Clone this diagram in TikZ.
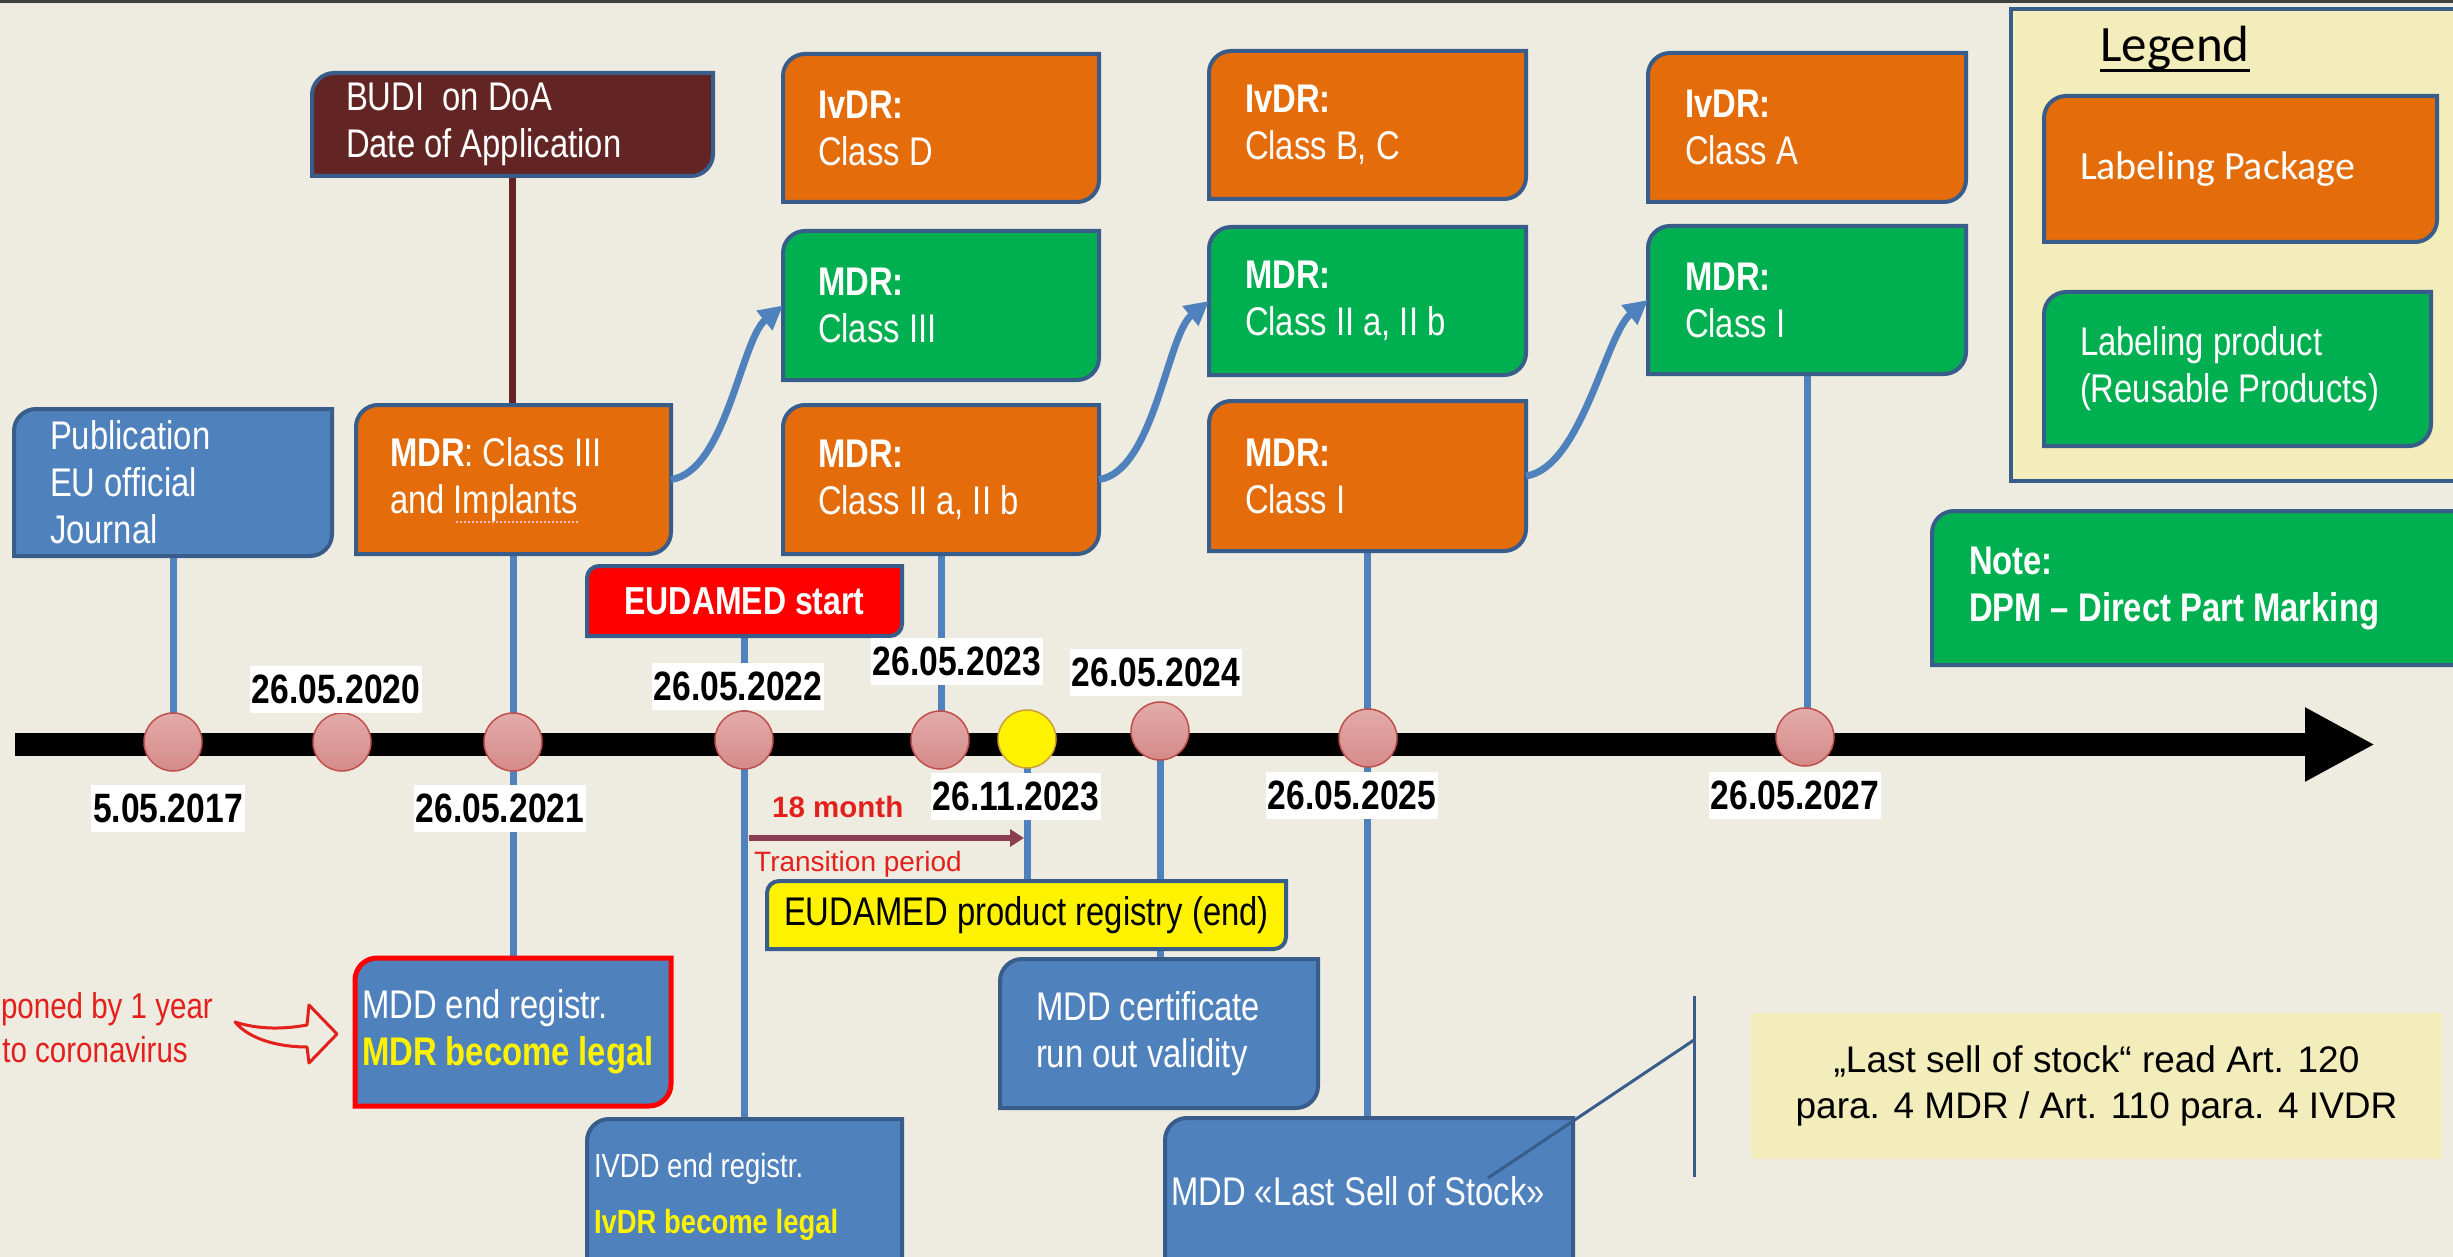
\documentclass[tikz,border=0pt]{standalone}
\usepackage{fontspec}
\setmainfont{Liberation Sans}[FakeStretch=0.82]
\newfontfamily\arialfont{Liberation Sans}
\newfontfamily\calibrifont{Carlito}
\usetikzlibrary{arrows.meta}

\definecolor{bgtan}{HTML}{EEECE1}
\definecolor{accblue}{HTML}{4F81BD}
\definecolor{edgeblue}{HTML}{385D8A}
\definecolor{accorange}{HTML}{E46C0A}
\definecolor{accgreen}{HTML}{00B050}
\definecolor{darkbrown}{HTML}{632523}
\definecolor{paleyellow}{HTML}{F2EDBA}
\definecolor{dottop}{HTML}{E3ABA9}
\definecolor{dotbottom}{HTML}{D48B89}
\definecolor{dotedge}{HTML}{C0504D}
\definecolor{yeledge}{HTML}{C9A03A}
\definecolor{alertred}{HTML}{E3201B}
\definecolor{periodline}{HTML}{8A3E50}
\definecolor{framegray}{HTML}{404040}

\pgfdeclarelayer{back}
\pgfdeclarelayer{wires}
\pgfsetlayers{back,wires,main}

\tikzset{
  anchorbox/.style={rectangle, inner sep=0pt, outer sep=0pt},
  lbl/.style={inner sep=0pt, outer sep=0pt, text=white, align=left,
    font=\fontsize{40}{47}\selectfont},
  bluepanel/.style={fill=accblue, draw=edgeblue, line width=4pt},
  orangepanel/.style={fill=accorange, draw=edgeblue, line width=4pt},
  greenpanel/.style={fill=accgreen, draw=edgeblue, line width=4pt},
  brownpanel/.style={fill=darkbrown, draw=edgeblue, line width=4pt},
  redpanel/.style={fill=red, draw=edgeblue, line width=4pt},
  yellowpanel/.style={fill=yellow, draw=edgeblue, line width=4pt},
  legalpanel/.style={fill=accblue, draw=red, line width=5pt},
  vwire/.style={draw=accblue, line width=7pt},
  datelab/.style={fill=white, inner xsep=2pt, inner ysep=0pt, outer sep=0pt,
    minimum height=47pt, text=black, font=\fontsize{41}{47}\selectfont\bfseries},
  dotbase/.style={circle, minimum size=58pt, inner sep=0pt, line width=1.5pt},
  datedot/.style={dotbase, draw=dotedge, top color=dottop, bottom color=dotbottom},
  yellowdot/.style={dotbase, draw=yeledge, fill=yellow},
  curvearrow/.style={draw=accblue, line width=7pt,
    -{Triangle[length=24pt,width=24pt]}},
  bracketline/.style={draw=edgeblue, line width=3pt},
}

% Panel with rounded top-left and bottom-right corners, plus an empty
% node of the same size that carries the name for anchoring.
% #1 name, #2 x1, #3 y1, #4 x2, #5 y2, #6 corner radius, #7 path style
\newcommand\cornerbox[7]{%
  \path[#7] (#2,#3+#6) .. controls (#2,#3+0.45*#6) and (#2+0.45*#6,#3) .. (#2+#6,#3)
    -- (#4,#3) -- (#4,#5-#6) .. controls (#4,#5-0.45*#6) and (#4-0.45*#6,#5) .. (#4-#6,#5)
    -- (#2,#5) -- cycle;
  \pgfmathsetmacro\cbw{#4-#2}%
  \pgfmathsetmacro\cbh{#5-#3}%
  \node[anchorbox, minimum width=\cbw pt, minimum height=\cbh pt] (#1)
    at ({(#2+#4)/2},{(#3+#5)/2}) {};%
}

\begin{document}
\begin{tikzpicture}[x=1pt,y=-1pt]
\useasboundingbox (0,0) rectangle (2453,1257);
\begin{pgfonlayer}{back}
  \fill[bgtan] (0,0) rectangle (2453,1257);
\end{pgfonlayer}
\draw[framegray, line width=3pt] (0,1.5) -- (2453,1.5);

% ---- time axis ----
\draw[line width=23pt, -{Triangle[length=70pt,width=69pt]}] (15,744.5) -- (2375,744.5);

% ---- upper panels ----
\cornerbox{pub}{14}{409}{332}{556}{22}{bluepanel}
\node[lbl, anchor=west] (pub-t) at ([xshift=36pt]pub.west) {Publication\\EU official\\Journal};

\cornerbox{budi}{312}{73}{713}{176}{22}{brownpanel}
\node[lbl, anchor=west] (budi-t) at ([xshift=34pt]budi.west) {BUDI\ \ on DoA\\Date of Application};

\cornerbox{mdr3o}{356}{405}{671}{554}{22}{orangepanel}
\node[lbl, anchor=west] (mdr3o-t) at ([xshift=34pt]mdr3o.west) {{\bfseries MDR}: Class III\\and Implants};

\cornerbox{ivdrD}{783}{54}{1099}{202}{22}{orangepanel}
\node[lbl, anchor=west] (ivdrD-t) at ([xshift=35pt]ivdrD.west) {{\bfseries IvDR:}\\Class D};
\cornerbox{mdr3g}{783}{231}{1099}{380}{22}{greenpanel}
\node[lbl, anchor=west] (mdr3g-t) at ([xshift=35pt]mdr3g.west) {{\bfseries MDR:}\\Class III};
\cornerbox{mdr2o}{783}{405}{1099}{554}{22}{orangepanel}
\node[lbl, anchor=west] (mdr2o-t) at ([xshift=35pt]mdr2o.west) {{\bfseries MDR:}\\Class II a, II b};

\cornerbox{ivdrBC}{1209}{51}{1526}{199}{22}{orangepanel}
\node[lbl, anchor=west] (ivdrBC-t) at ([xshift=36pt]ivdrBC.west) {{\bfseries IvDR:}\\Class B, C};
\cornerbox{mdr2g}{1209}{227}{1526}{375}{22}{greenpanel}
\node[lbl, anchor=west] (mdr2g-t) at ([xshift=36pt]mdr2g.west) {{\bfseries MDR:}\\Class II a, II b};
\cornerbox{mdr1o}{1209}{401}{1526}{551}{22}{orangepanel}
\node[lbl, anchor=west] (mdr1o-t) at ([xshift=36pt]mdr1o.west) {{\bfseries MDR:}\\Class I};

\cornerbox{ivdrA}{1648}{53}{1966}{202}{22}{orangepanel}
\node[lbl, anchor=west] (ivdrA-t) at ([xshift=37pt]ivdrA.west) {{\bfseries IvDR:}\\Class A};
\cornerbox{mdr1g}{1648}{226}{1966}{374}{22}{greenpanel}
\node[lbl, anchor=west] (mdr1g-t) at ([xshift=37pt]mdr1g.west) {{\bfseries MDR:}\\Class I};

% ---- legend ----
\node[anchorbox, anchor=north west, minimum width=470pt, minimum height=472pt,
  fill=paleyellow, draw=edgeblue, line width=4pt] (legend) at (2011,9) {};
\node[inner sep=0pt, anchor=base west, font=\calibrifont\fontsize{51}{60}\selectfont]
  (legend-t) at (2100,62) {Legend};
\draw[line width=3pt] ([yshift=-9pt]legend-t.base west) -- ([yshift=-9pt]legend-t.base east);
\cornerbox{legpack}{2044}{96}{2437}{242}{22}{orangepanel}
\node[lbl, anchor=west, font=\calibrifont\fontsize{40}{47}\selectfont] (legpack-t)
  at ([xshift=36pt]legpack.west) {Labeling Package};
\cornerbox{legprod}{2044}{292}{2431}{446}{22}{greenpanel}
\node[lbl, anchor=west] (legprod-t) at ([xshift=36pt]legprod.west) {Labeling product\\(Reusable Products)};

\cornerbox{note}{1932}{511}{2480}{665}{22}{greenpanel}
\node[lbl, anchor=west, font=\fontsize{40}{47}\selectfont\bfseries] (note-t)
  at ([xshift=37pt]note.west) {Note:\\DPM – Direct Part Marking};

% ---- middle panels ----
\cornerbox{eudstart}{587}{566}{902}{636}{12}{redpanel}
\node[lbl, font=\fontsize{39}{47}\selectfont\bfseries] (eudstart-t) at (eudstart) {EUDAMED start};

\cornerbox{regend}{767}{881}{1286}{949}{12}{yellowpanel}
\node[lbl, text=black] (regend-t) at (regend) {EUDAMED product registry (end)};

% ---- lower panels ----
\cornerbox{mddend}{355}{958}{671}{1106}{22}{legalpanel}
\node[lbl, anchor=west] (mddend-t) at ([xshift=7pt]mddend.west)
  {MDD end registr.\\{\bfseries\color{yellow}MDR become legal}};

\cornerbox{ivdd}{587}{1119}{902}{1300}{22}{bluepanel}
\node[lbl, anchor=base west, font=\fontsize{33.5}{40}\selectfont] (ivdd-a) at (594,1177) {IVDD end registr.};
\node[lbl, anchor=base west, text=yellow, font=\fontsize{33.5}{40}\selectfont\bfseries] (ivdd-b) at (594,1233) {IvDR become legal};

\cornerbox{mddcert}{1000}{959}{1318}{1108}{22}{bluepanel}
\node[lbl, anchor=west] (mddcert-t) at ([xshift=36pt]mddcert.west) {MDD certificate\\run out validity};

\cornerbox{mddlast}{1165}{1118}{1573}{1300}{22}{bluepanel}
\node[lbl, anchor=base west] (mddlast-t) at (1171,1205) {MDD «Last Sell of Stock»};

\node[anchorbox, minimum width=691pt, minimum height=146pt, fill=paleyellow,
  align=center, font=\arialfont\fontsize{37}{46}\selectfont] (lastnote) at (2096.5,1086)
  {„Last sell of stock“ read Art. 120\\para. 4 MDR / Art. 110 para. 4 IVDR};

% ---- milestones on the axis ----
\node[datedot] (c2017) at (173,742) {};
\node[datedot] (c2020) at (342,742) {};
\node[datedot] (c2021) at (513,742) {};
\node[datedot] (c2022) at (744,740) {};
\node[datedot] (c2023) at (940,740) {};
\node[yellowdot] (cyel) at (1027,739) {};
\node[datedot] (c2024) at (1160,731) {};
\node[datedot] (c2025) at (1368,738) {};
\node[datedot] (c2027) at (1805,737) {};

\node[datelab] (d2020) at (336,689) {26.05.2020};
\node[datelab] (d2017) at (168,808) {5.05.2017};
\node[datelab] (d2021) at (500,808) {26.05.2021};
\node[datelab] (d2022) at (738,686) {26.05.2022};
\node[datelab] (d2023) at (957,661) {26.05.2023};
\node[datelab] (d2023b) at (1016,796) {26.11.2023};
\node[datelab] (d2024) at (1156,672) {26.05.2024};
\node[datelab] (d2025) at (1352,795) {26.05.2025};
\node[datelab] (d2027) at (1795,795) {26.05.2027};

% ---- vertical links ----
\begin{pgfonlayer}{wires}
  \draw[vwire] (pub.south) -- (pub.south |- c2017.center);
  \draw[vwire, draw=darkbrown] (budi.south) -- (budi.south |- mdr3o.north);
  \draw[vwire] (mdr3o.south) -- (mdr3o.south |- mddend.north);
  \draw[vwire] (eudstart.south) -- (eudstart.south |- ivdd.north);
  \draw[vwire] (mdr2o.south) -- (mdr2o.south |- c2023.center);
  \draw[vwire] (cyel.center) -- (cyel.center |- regend.north);
  \draw[vwire] (c2024.center) -- (c2024.center |- mddcert.north);
  \draw[vwire] (mdr1o.south) -- (mdr1o.south |- mddlast.north);
  \draw[vwire] (mdr1g.south) -- (mdr1g.south |- c2027.center);
\end{pgfonlayer}

% ---- transfers from package to product labelling ----
\draw[curvearrow] (mdr3o.east) .. controls +(55,-8) and +(-42,34) .. (mdr3g.west);
\draw[curvearrow] (mdr2o.east) .. controls +(55,-8) and +(-42,34) .. (mdr2g.west);
\draw[curvearrow] (mdr1o.east) .. controls +(55,-8) and +(-42,34) .. (mdr1g.west);

% ---- transition period ----
\coordinate (trA) at (749,838);
\coordinate (trB) at (1024,838);
\draw[periodline, line width=6pt, -{Triangle[length=14pt,width=17pt]}] (trA) -- (trB);
\node[inner sep=0pt, anchor=base west, text=alertred,
  font=\arialfont\bfseries\fontsize{29.5}{35}\selectfont] (m18) at (772,817) {18 month};
\node[inner sep=0pt, anchor=base west, text=alertred,
  font=\arialfont\fontsize{28}{34}\selectfont] (trtext) at (754,871) {Transition period};

% ---- postponement remark ----
\node[inner sep=0pt, anchor=base east, text=alertred, font=\fontsize{36}{44}\selectfont]
  (post-a) at (213,1018) {poned by 1 year};
\node[inner sep=0pt, anchor=base east, text=alertred, font=\fontsize{36}{44}\selectfont]
  (post-b) at (188,1062) {to coronavirus};
\draw[alertred, line width=3pt, line join=round]
  (235,1022) .. controls (260,1030) and (285,1029) .. (307,1025) -- (309,1005)
  -- (337,1034) -- (309,1063) -- (307,1047)
  .. controls (280,1047) and (250,1040) .. (235,1022) -- cycle;

% spell-check mark under "Implants"
\draw[draw=red!25!white, line width=2pt, dotted] (456,522) -- (579,522);

% ---- callout bracket for the stock note ----
\coordinate (brT) at (1694,996);
\coordinate (brB) at (1694,1177);
\coordinate (brK) at (1694,1040);
\coordinate (brL) at (1488,1178);
\draw[bracketline] (brT) -- (brB);
\draw[bracketline] (brK) -- (brL);
\end{tikzpicture}
\end{document}
